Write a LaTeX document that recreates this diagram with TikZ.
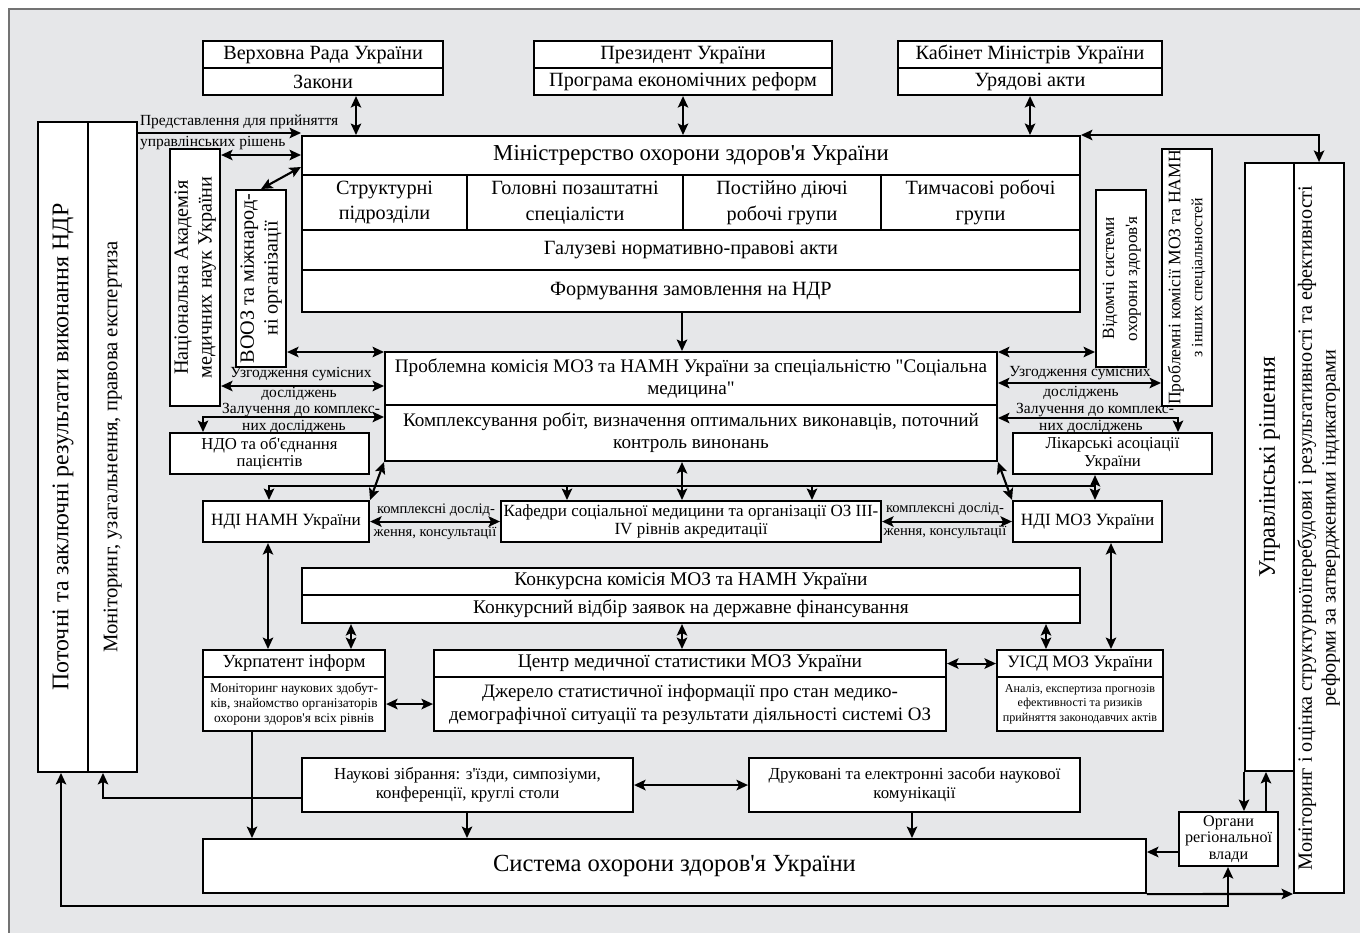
\documentclass[tikz,border=0pt]{standalone}
\usepackage{fontspec}
\newfontfamily\tnr{Liberation Serif}
\usepackage{graphicx}
\usetikzlibrary{arrows.meta}
\definecolor{bggray}{RGB}{230,231,233}
\definecolor{framegray}{RGB}{115,115,115}
\newcommand\vtext[1]{\rotatebox{90}{\begin{tabular}{@{}c@{}}#1\end{tabular}}}

\begin{document}
\begin{tikzpicture}[x=0.02cm,y=-0.02cm,line width=1.2pt,
  >={Stealth[length=2.3mm,width=2.1mm,inset=0.5mm]},
  fs/.style 2 args={font=\tnr\fontsize{#1}{#2}\selectfont},
  box/.style={draw,fill=white,anchor=north west,align=center,inner sep=1pt,fs={11.5}{13}},
  lbl/.style={inner sep=0pt,fs={8.8}{10}},
  dbl/.style={<->}]
\useasboundingbox (0,0) rectangle (1360,933);
\fill[bggray] (9,9) rectangle (1360,933);
\draw[framegray,line width=1pt] (9,933) -- (9,9) -- (1360,9);

\node[box,minimum width=48mm,minimum height=5.4mm] (rada) at (202,40) {Верховна Рада України};
\node[box,minimum width=48mm,minimum height=5.4mm] (zak) at (202,67) {Закони};
\node[box,minimum width=59.6mm,minimum height=5.4mm] (prez) at (533,40) {Президент України};
\node[box,minimum width=59.6mm,minimum height=5.4mm] (prog) at (533,67) {Програма економічних реформ};
\node[box,minimum width=52.8mm,minimum height=5.4mm] (kab) at (897,40) {Кабінет Міністрів України};
\node[box,minimum width=52.8mm,minimum height=5.4mm] (uriad) at (897,67) {Урядові акти};

\node[box,fs={13}{15},minimum width=155.6mm,minimum height=7.8mm] (moz) at (301,135) {Міністрерство охорони здоров'я України};
\node[box,fs={11.5}{14.5},minimum width=33mm,minimum height=11mm] (str) at (301,174) {Структурні\\підрозділи};
\node[box,fs={11.5}{14.5},minimum width=43.2mm,minimum height=11mm] (gol) at (466,174) {Головні позаштатні\\спеціалісти};
\node[box,fs={11.5}{14.5},minimum width=39.6mm,minimum height=11mm] (post) at (682,174) {Постійно діючі\\робочі групи};
\node[box,fs={11.5}{14.5},minimum width=39.8mm,minimum height=11mm] (tymch) at (880,174) {Тимчасові робочі\\групи};
\node[box,minimum width=155.6mm,minimum height=8mm] (galuz) at (301,229) {Галузеві нормативно-правові акти};
\node[box,minimum width=155.6mm,minimum height=8.4mm] (form) at (301,269) {Формування замовлення на НДР};

\node[box,fs={13.6}{15},minimum width=10mm,minimum height=130mm] (potoch) at (37,121) {\vtext{Поточні та заключні результати виконання НДР}};
\node[box,fs={11.8}{14},minimum width=9.8mm,minimum height=130mm] (monit) at (87,121) {\vtext{Моніторинг, узагальнення, правова експертиза}};
\node[box,fs={11.5}{13.5},inner sep=0pt,minimum width=10mm,minimum height=51.4mm] (namn) at (169,148) {\vtext{Національна Академія\\медичних наук України}};
\node[box,fs={11.5}{13.5},inner sep=0pt,minimum width=10mm,minimum height=35.4mm] (vooz) at (235,189) {\vtext{ВООЗ та міжнарод-\\ні організації}};
\node[box,fs={9.8}{13},inner sep=0pt,minimum width=10mm,minimum height=35.4mm] (vidom) at (1095,189) {\vtext{Відомчі системи\\охорони здоров'я}};
\node[box,fs={10}{12.5},inner sep=0pt,minimum width=10mm,minimum height=51.4mm] (probinsh) at (1161,148) {\vtext{Проблемні комісії МОЗ та НАМН\\{\fontsize{9}{12.5}\selectfont з інших спеціальностей}}};
\node[box,fs={13.5}{15},minimum width=9.8mm,minimum height=121.6mm] (upr) at (1244,162) {\vtext{Управлінські рішення}};
\node[box,fs={11.5}{13.5},inner sep=0pt,minimum width=10mm,minimum height=146mm] (monit2) at (1293,162) {\vtext{Моніторинг і оцінка структурноїперебудови і результативності та ефективності\\реформи за затвердженими індикаторами}};

\node[box,fs={10.9}{12.5},minimum width=122.4mm,minimum height=10.6mm] (probl) at (384,351) {Проблемна комісія МОЗ та НАМН України за спеціальністю "Соціальна\\медицина"};
\node[box,fs={10.9}{12.5},minimum width=122.4mm,minimum height=11.2mm] (kompl) at (384,404) {Комплексування робіт, визначення оптимальних виконавців, поточний\\контроль винонань};
\node[box,fs={9.5}{10},minimum width=39.8mm,minimum height=8.2mm] (ndo) at (169,432) {НДО та об'єднання\\пацієнтів};
\node[box,fs={9.5}{10},minimum width=39.8mm,minimum height=8.2mm] (likar) at (1012,432) {Лікарські асоціації\\України};

\node[box,fs={9.8}{12},minimum width=33.2mm,minimum height=8.2mm] (ndinamn) at (202,500) {НДІ НАМН України};
\node[box,fs={9.7}{10.5},minimum width=76mm,minimum height=8.2mm] (kaf) at (500,500) {Кафедри соціальної медицини та організації ОЗ ІІІ-\\IV рівнів акредитації};
\node[box,fs={9.8}{12},minimum width=29.8mm,minimum height=8.2mm] (ndimoz) at (1012,500) {НДІ МОЗ України};

\node[box,fs={11}{13},minimum width=155.6mm,minimum height=5.4mm] (konk) at (301,567) {Конкурсна комісія МОЗ та НАМН України};
\node[box,fs={11}{13},minimum width=155.6mm,minimum height=5.6mm] (vidbir) at (301,594) {Конкурсний відбір заявок на державне фінансування};

\node[box,fs={10.5}{12},minimum width=36.4mm,minimum height=5.4mm] (ukrp) at (202,649) {Укрпатент інформ};
\node[box,fs={7.6}{8.6},minimum width=36.4mm,minimum height=10.8mm] (ukrpinf) at (202,676) {Моніторинг наукових здобут-\\ків, знайомство організаторів\\охорони здоров'я всіх рівнів};
\node[box,fs={11}{13},minimum width=102.4mm,minimum height=5.4mm] (centr) at (433,649) {Центр медичної статистики МОЗ України};
\node[box,fs={10.8}{13},minimum width=102.4mm,minimum height=10.8mm] (centrinf) at (433,676) {Джерело статистичної інформації про стан медико-\\демографічної ситуації та результати діяльності системі ОЗ};
\node[box,fs={9.9}{12},minimum width=33.2mm,minimum height=5.4mm] (uisd) at (996,649) {УІСД МОЗ України};
\node[box,fs={6.9}{8.2},minimum width=33.2mm,minimum height=10.8mm] (uisdinf) at (996,676) {Аналіз, експертиза прогнозів\\ефективності та ризиків\\прийняття законодавчих актів};

\node[box,fs={9.6}{11},minimum width=66.2mm,minimum height=10.8mm] (nauk) at (301,757) {Наукові зібрання: з'їзди, симпозіуми,\\конференції, круглі столи};
\node[box,fs={9.6}{11},minimum width=66.2mm,minimum height=10.8mm] (druk) at (748,757) {Друковані та електронні засоби наукової\\комунікації};
\node[box,fs={14}{16},minimum width=188.6mm,minimum height=10.8mm] (sys) at (202,838) {Система охорони здоров'я України};
\node[box,fs={9.2}{9.2},minimum width=19.8mm,minimum height=10.8mm] (organy) at (1178,811) {Органи\\регіональної\\влади};

\draw[dbl] (zak.south -| 356,0) -- (moz.north -| 356,0);
\draw[dbl] (prog.south) -- (moz.north -| prog.south);
\draw[dbl] (uriad.south) -- (moz.north -| uriad.south);
\draw[->] (monit.north east |- 0,133) -- (moz.north west |- 0,133);
\draw[dbl] (namn.east |- 0,155) -- (moz.west |- 0,155);
\draw[dbl] (vooz.north) -- (moz.west |- 0,167);
\draw[->] (form.south -| 682,0) -- (probl.north -| 682,0);
\draw[dbl] (vooz.east |- 0,352) -- (probl.west |- 0,352);
\draw[dbl] (namn.east |- 0,386) -- (probl.west |- 0,386);
\draw[dbl] (ndo.north -| 203,0) |- (kompl.west |- 0,417);
\draw[dbl] (probl.east |- 0,352) -- (vidom.west |- 0,352);
\draw[dbl] (probl.east |- 0,383) -- (probinsh.west |- 0,383);
\draw[dbl] (kompl.east |- 0,418) -| (likar.north -| 1178,0);
\draw[dbl] (kompl.south west) -- (ndinamn.north east);
\draw[dbl] (kompl.south east) -- (ndimoz.north west);
\draw[dbl] (kompl.south -| 682,0) -- (kaf.north -| 682,0);
\draw[dbl] (likar.south -| 1095,0) -- (ndimoz.north -| 1095,0);
\coordinate (bus) at (1095,486);
\draw[->] (bus) -| (ndinamn.north -| 269,0);
\draw[->] (bus -| 567,0) -- (kaf.north -| 567,0);
\draw[->] (bus -| 812,0) -- (kaf.north -| 812,0);
\draw[dbl] (ndinamn.east) -- (kaf.west);
\draw[dbl] (kaf.east) -- (ndimoz.west);
\draw[dbl] (ndinamn.south -| 268,0) -- (ukrp.north -| 268,0);
\draw[dbl] (ndimoz.south -| 1111,0) -- (uisd.north -| 1111,0);
\draw[dbl] (vidbir.south -| 351,0) -- (ukrp.north -| 351,0);
\draw[dbl] (vidbir.south -| 682,0) -- (centr.north -| 682,0);
\draw[dbl] (vidbir.south -| 1046,0) -- (uisd.north -| 1046,0);
\draw[dbl] (ukrpinf.east) -- (centrinf.west);
\draw[dbl] (centr.east) -- (uisd.west);
\draw[->] (ukrpinf.south -| 252,0) -- (sys.north -| 252,0);
\draw[->] (nauk.south -| 467,0) -- (sys.north -| 467,0);
\draw[->] (druk.south -| 912,0) -- (sys.north -| 912,0);
\draw[dbl] (nauk.east) -- (druk.west);
\draw[->] (nauk.west |- 0,798) -| (monit.south -| 103,0);
\coordinate (loop) at (61,906);
\draw[dbl] (potoch.south -| loop) -- (loop) -| (organy.south -| 1228,0);
\draw[->] (sys.south east) -- (monit2.south west);
\draw[->] (organy.west |- 0,852) -- (sys.east |- 0,852);
\draw[->] (upr.south west) -- (organy.north -| upr.south west);
\draw[->] (organy.north -| 1266,0) -- (upr.south -| 1266,0);
\draw[dbl] (moz.north east) -| (monit2.north);

\node[lbl,anchor=west] (pred1) at (139,122) {Представлення для прийняття};
\node[lbl,anchor=west] (pred2) at (139,143) {управлінських рішень};
\node[lbl] (uzgl1) at (301,374) {Узгодження сумісних};
\node[lbl] (uzgl2) at (299,394) {досліджень};
\node[lbl] (zall1) at (301,410) {Залучення до комплекс-};
\node[lbl] (zall2) at (294,427) {них досліджень};
\node[lbl] (uzgr1) at (1080,373) {Узгодження сумісних};
\node[lbl] (uzgr2) at (1081,393) {досліджень};
\node[lbl] (zalr1) at (1095,410) {Залучення до комплекс-};
\node[lbl] (zalr2) at (1091,427) {них досліджень};
\node[lbl,fs={8.3}{10}] (kdl1) at (436,510) {комплексні дослід-};
\node[lbl,fs={8.3}{10}] (kdl2) at (435,533) {ження, консультації};
\node[lbl,fs={8.3}{10}] (kdr1) at (945,509) {комплексні дослід-};
\node[lbl,fs={8.3}{10}] (kdr2) at (945,532) {ження, консультації};
\end{tikzpicture}
\end{document}
